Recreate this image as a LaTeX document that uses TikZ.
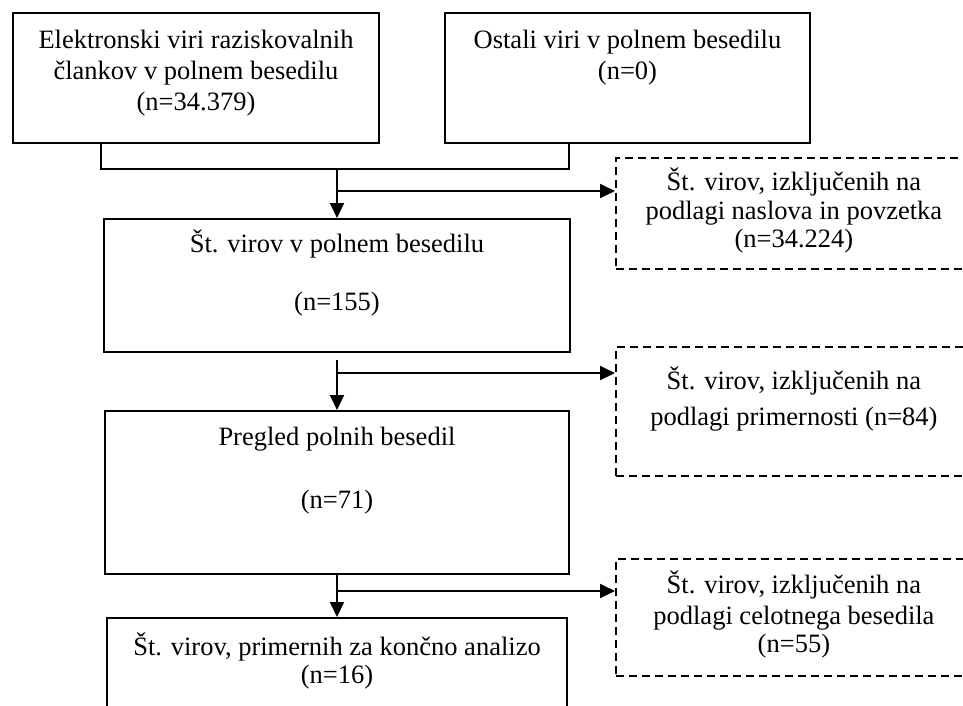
\documentclass[tikz,border=0pt]{standalone}
\usepackage{fontspec}
\setmainfont{Liberation Serif}
\usetikzlibrary{arrows.meta}
\newcommand{\flowtext}[4]{\parbox[c][#2][t]{#1}{\centering\rule{0pt}{#3}#4}}
\tikzset{
	flowbox/.style={draw, line width=2pt, inner sep=0pt, anchor=north west, font=\fontsize{26.5}{31}\selectfont},
	exclbox/.style={flowbox, line width=1.8pt, dash pattern=on 8pt off 5pt},
	flowline/.style={line width=2pt},
	flowarrow/.style={flowline, -{Triangle[length=15pt,width=14pt]}}
}

\begin{document}
\begin{tikzpicture}[x=1pt,y=-1pt]
		\useasboundingbox (0,0) rectangle (963,705);
		\clip (0,0) rectangle (963,705);
		%%%%% START %%%%%
		\node[flowbox] (elektronski) at (12,12) {\flowtext{366pt}{130pt}{35pt}{Elektronski viri raziskovalnih\\ člankov v polnem besedilu\\ (n=34.379)}};
		\node[flowbox] (ostali) at (444,12) {\flowtext{365pt}{130pt}{35pt}{Ostali viri v polnem besedilu\\ (n=0)}};
		
		\node[flowbox] (polno) at (103,218) {\flowtext{466pt}{133pt}{33pt}{Št. virov v polnem besedilu\\[27pt] (n=155)}};
		\node[flowbox] (pregled) at (104,410) {\flowtext{464pt}{163pt}{34pt}{Pregled polnih besedil\\[32pt] (n=71)}};
		\node[flowbox] (koncni) at (106,617) {\flowtext{460pt}{150pt}{37pt}{Št. virov, primernih za končno analizo\\[-3pt] (n=16)}};
		
		\node[exclbox] (naslov) at (615,157) {\flowtext{356pt}{111pt}{33pt}{Št. virov, izključenih na\\[-2pt] podlagi naslova in povzetka\\[-3pt] (n=34.224)}};
		\node[exclbox] (primernost) at (615,346) {\flowtext{356pt}{129pt}{43pt}{Št. virov, izključenih na\\[5pt] podlagi primernosti (n=84)}};
		\node[exclbox] (celotno) at (615,558) {\flowtext{356pt}{117pt}{35pt}{Št. virov, izključenih na\\ podlagi celotnega besedila\\[-3pt] (n=55)}};
		
		% zdruzitev obeh virov
		\coordinate (jl) at (101,169);
		\coordinate (jr) at (569,169);
		\draw[flowline] (elektronski.south -| jl) -- (jl) -- (jr) -- (ostali.south -| jr);
		\draw[flowarrow] (polno.north |- jl) -- (polno.north);
		
		\path (polno.north) ++(0,-27) coordinate (split1);
		\draw[flowarrow] (split1) -- (split1 -| naslov.west);
		
		\path (polno.south) ++(0,7) coordinate (stem2);
		\draw[flowarrow] (stem2) -- (pregled.north);
		\path (polno.south) ++(0,20) coordinate (split2);
		\draw[flowarrow] (split2) -- (split2 -| primernost.west);
		
		\draw[flowarrow] (pregled.south) -- (koncni.north);
		\path (pregled.south) ++(0,16) coordinate (split3);
		\draw[flowarrow] (split3) -- (split3 -| celotno.west);
		%%%%% END %%%%%
\end{tikzpicture}
\end{document}
